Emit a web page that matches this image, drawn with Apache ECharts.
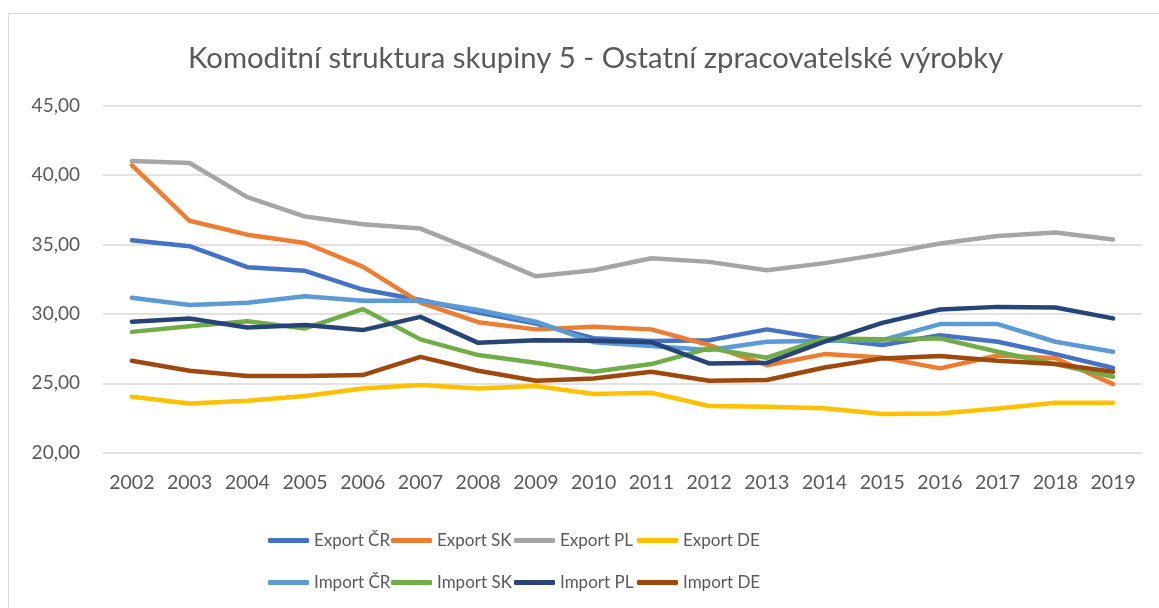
<!DOCTYPE html>
<html>
<head>
<meta charset="utf-8">
<script src="https://cdn.jsdelivr.net/npm/echarts@6/dist/echarts.min.js"></script>
<style>
  html, body { margin: 0; padding: 0; background: #fff; }
  #main { width: 1159px; height: 608px; }
</style>
</head>
<body>
<div id="main"></div>
<script>
var years = ['2002','2003','2004','2005','2006','2007','2008','2009','2010','2011','2012','2013','2014','2015','2016','2017','2018','2019'];
var yTicks = [20, 25, 30, 35, 40, 45];

var exportCR = [35.3, 34.87, 33.36, 33.1, 31.75, 31.0, 30.1, 29.3, 28.25, 28.05, 28.1, 28.88, 28.2, 27.75, 28.46, 27.99, 27.1, 26.1];
var exportSK = [40.7, 36.7, 35.7, 35.1, 33.4, 30.8, 29.4, 28.88, 29.07, 28.88, 27.75, 26.3, 27.1, 26.86, 26.07, 27.0, 26.8, 24.94];
var exportPL = [41.0, 40.86, 38.4, 37.0, 36.45, 36.14, 34.46, 32.7, 33.14, 34.0, 33.74, 33.14, 33.65, 34.3, 35.06, 35.6, 35.85, 35.35];
var exportDE = [24.03, 23.55, 23.74, 24.08, 24.63, 24.87, 24.63, 24.8, 24.22, 24.32, 23.36, 23.31, 23.2, 22.78, 22.83, 23.19, 23.6, 23.6];
var importCR = [31.15, 30.63, 30.8, 31.27, 30.94, 30.94, 30.27, 29.43, 27.96, 27.68, 27.39, 27.99, 28.06, 28.1, 29.26, 29.26, 27.99, 27.27];
var importSK = [28.7, 29.1, 29.47, 28.95, 30.34, 28.16, 27.03, 26.48, 25.83, 26.38, 27.51, 26.84, 28.23, 28.16, 28.23, 27.27, 26.38, 25.47];
var importPL = [29.43, 29.67, 29.02, 29.19, 28.83, 29.78, 27.91, 28.1, 28.06, 27.96, 26.43, 26.47, 28.0, 29.35, 30.31, 30.5, 30.46, 29.67];
var importDE = [26.62, 25.9, 25.52, 25.52, 25.59, 26.9, 25.9, 25.18, 25.35, 25.83, 25.18, 25.23, 26.14, 26.79, 26.96, 26.62, 26.38, 25.83];

var names = ['Export ČR','Export SK','Export PL','Export DE','Import ČR','Import SK','Import PL','Import DE'];
var colors = ['#4472C4','#ED7D31','#A5A5A5','#FFC000','#5B9BD5','#70AD47','#264478','#9E480E'];
var values = [exportCR, exportSK, exportPL, exportDE, importCR, importSK, importPL, importDE];

var font = 'Lato, "Open Sans", sans-serif';
var chart = echarts.init(document.getElementById('main'));

var series = [];
names.forEach(function (n, i) {
  series.push({
    name: n,
    type: 'line',
    data: values[i],
    symbol: 'none',
    lineStyle: { width: 4.5, color: colors[i], cap: 'round', join: 'round' },
    itemStyle: { color: colors[i] },
    animation: false
  });
});

// one legend per item so that the columns sit on a fixed 123px pitch like Excel
var legends = names.map(function (n, i) {
  return {
    data: [{ name: n, icon: 'roundRect' }],
    left: 263 + (i % 4) * 123,
    top: i < 4 ? 527 : 569,
    itemWidth: 41,
    itemHeight: 5,
    itemGap: 0,
    textStyle: { fontFamily: font, fontSize: 17, color: '#595959' }
  };
});

var option = {
  backgroundColor: '#fff',
  color: colors,
  title: {
    text: 'Komoditní struktura skupiny 5 - Ostatní zpracovatelské výrobky',
    left: 183,
    top: 39,
    textStyle: { fontFamily: font, fontSize: 29.3, fontWeight: 'normal', color: '#595959' }
  },
  graphic: [{
    type: 'rect',
    shape: { x: 8.5, y: 13.5, width: 1300, height: 800 },
    style: { fill: 'none', stroke: '#d9d9d9', lineWidth: 1 },
    silent: true
  }],
  legend: legends,
  grid: { left: 103, right: 17, top: 105.5, bottom: 155.3 },
  xAxis: {
    type: 'category',
    data: years,
    boundaryGap: true,
    axisLine: { show: false },
    axisTick: { show: false },
    axisLabel: { fontFamily: font, fontSize: 19.5, color: '#595959', margin: 20, interval: 0 }
  },
  yAxis: {
    type: 'value',
    min: yTicks[0],
    max: yTicks[yTicks.length - 1],
    interval: 5,
    axisLine: { show: false },
    axisTick: { show: false },
    splitLine: { lineStyle: { color: '#d9d9d9', width: 1.5 } },
    axisLabel: {
      fontFamily: font, fontSize: 19, color: '#595959', margin: 23,
      formatter: function (v) { return v.toFixed(2).replace('.', ','); }
    }
  },
  series: series
};
chart.setOption(option);
</script>
</body>
</html>
